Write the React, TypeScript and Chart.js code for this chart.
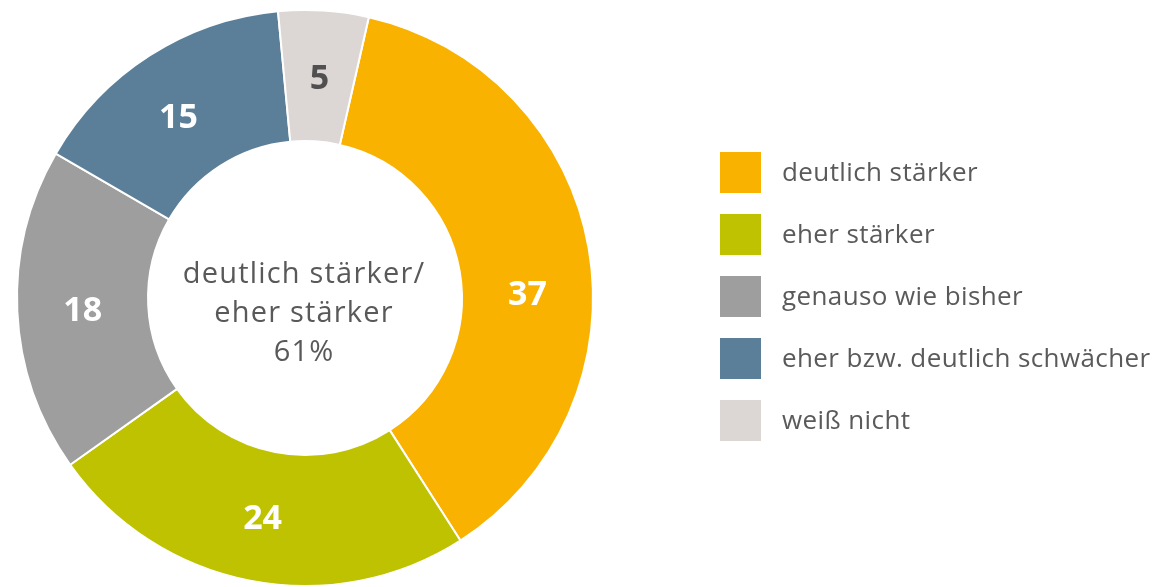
import React, { useEffect, useRef } from "react";
import { Chart, registerables } from "chart.js";

Chart.register(...registerables);

const categories = [
  "deutlich stärker",
  "eher stärker",
  "genauso wie bisher",
  "eher bzw. deutlich schwächer",
  "weiß nicht",
];
const values = [37, 24, 18, 15, 5];
const colors = ["#F9B200", "#BFC200", "#9D9E9D", "#5B7F99", "#DCD7D5"];
const labelColors = ["#FFFFFF", "#FFFFFF", "#FFFFFF", "#FFFFFF", "#505050"];
const centerLines = ["deutlich stärker/", "eher stärker", "61%"];

const FONT = "'Open Sans', 'Noto Sans', sans-serif";

const labelPlugin = {
  id: "customLabels",
  afterDatasetsDraw(chart: any) {
    const ctx = chart.ctx;
    const meta = chart.getDatasetMeta(0);
    ctx.save();
    ctx.textAlign = "center";
    ctx.textBaseline = "middle";
    ctx.font = `bold 34px ${FONT}`;
    meta.data.forEach((arc: any, i: number) => {
      const p = arc.getProps(["x", "y", "startAngle", "endAngle", "innerRadius", "outerRadius"], true);
      let mid = (p.startAngle + p.endAngle) / 2;
      if (i === 0) mid += (8.5 * Math.PI) / 180;
      if (i === 3) mid -= (2 * Math.PI) / 180;
      const r = (p.innerRadius + p.outerRadius) / 2;
      ctx.fillStyle = labelColors[i];
      ctx.fillText(String(chart.data.datasets[0].data[i]), p.x + Math.cos(mid) * r, p.y + Math.sin(mid) * r + 3);
    });
    // center text
    const a = meta.data[0];
    ctx.fillStyle = "#595959";
    ctx.font = `29px ${FONT}`;
    (ctx as any).letterSpacing = "1.2px";
    const cx = a.x;
    const cy = a.y;
    centerLines.forEach((t, i) => {
      ctx.fillText(t, cx - 1, cy - 23 + i * 39);
    });
    // legend
    const lx = 720;
    const ly = 152;
    const step = 62;
    const size = 41;
    ctx.textAlign = "left";
    ctx.font = `26px ${FONT}`;
    (ctx as any).letterSpacing = "0.4px";
    categories.forEach((c, i) => {
      ctx.fillStyle = colors[i];
      ctx.fillRect(lx, ly + i * step, size, size);
      ctx.fillStyle = "#5A5A5A";
      ctx.fillText(c, 782, ly + i * step + size / 2 + 1);
    });
    ctx.restore();
  },
};

export default function App() {
  const ref = useRef<HTMLCanvasElement>(null);
  useEffect(() => {
    document.body.style.margin = "0";
    const chart = new Chart(ref.current!, {
      type: "doughnut",
      data: {
        labels: categories,
        datasets: [
          {
            data: values,
            backgroundColor: colors,
            borderColor: "#FFFFFF",
            borderWidth: 2,
          },
        ],
      },
      options: {
        responsive: false,
        animation: false,
        rotation: 12.8,
        cutout: "54.5%",
        layout: { padding: { left: 16, top: 9, right: 559, bottom: 0 } },
        plugins: {
          legend: { display: false },
          tooltip: { enabled: false },
        },
      },
      plugins: [labelPlugin],
    });
    return () => chart.destroy();
  }, []);
  return (
    <div style={{ position: "absolute", left: 0, top: 0, width: 1153, height: 587, overflow: "hidden", background: "#fff" }}>
      <canvas ref={ref} width={1153} height={587} style={{ width: 1153, height: 587, display: "block" }} />
    </div>
  );
}
